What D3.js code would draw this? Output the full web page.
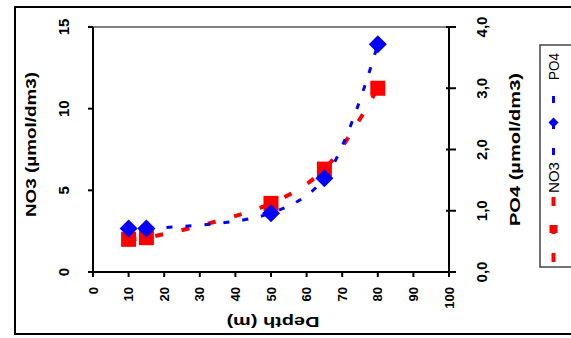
<!DOCTYPE html>
<html><head><meta charset="utf-8">
<script src="https://cdn.jsdelivr.net/npm/d3@7"></script>
<style>html,body{margin:0;padding:0;background:#fff;}svg{display:block;}</style>
</head><body>
<svg id="c" width="571" height="338"></svg>
<script>
const depth = [10, 15, 50, 65, 80];
const no3 = [2.0, 2.1, 4.2, 6.3, 11.25];
const po4 = [0.71, 0.71, 0.96, 1.53, 3.72];
const xTicks = [0,10,20,30,40,50,60,70,80,90,100];
const leftTicks = [0,5,10,15];
const rightTicks = [0,1,2,3,4];
const xTitle = "Depth (m)";
const leftTitle = "NO3 (µmol/dm3)";
const rightTitle = "PO4 (µmol/dm3)";
const seriesNames = ["NO3","PO4"];

const FONT = "'Liberation Sans', Arial, sans-serif";
const svg = d3.select("#c");
const L = 93, R = 449, T = 27, B = 272;
const x = d3.scaleLinear().domain([0,100]).range([L,R]);
const yL = d3.scaleLinear().domain([0,15]).range([B,T]);
const yR = d3.scaleLinear().domain([0,4]).range([B,T]);

// outer frame
svg.append("rect").attr("x",15).attr("y",7).attr("width",600).attr("height",327)
  .attr("fill","none").attr("stroke","#000").attr("stroke-width",2);

// plot top border
svg.append("line").attr("x1",L).attr("x2",R).attr("y1",T).attr("y2",T)
  .attr("stroke","#808080").attr("stroke-width",2);

// axes
const ax = svg.append("g").attr("stroke","#000").attr("stroke-width",2);
ax.append("line").attr("x1",L).attr("x2",L).attr("y1",T).attr("y2",B+1);
ax.append("line").attr("x1",R).attr("x2",R).attr("y1",T).attr("y2",B+1);
ax.append("line").attr("x1",L-4).attr("x2",R).attr("y1",B).attr("y2",B);
xTicks.forEach(t=>{ax.append("line").attr("x1",x(t)).attr("x2",x(t)).attr("y1",B).attr("y2",B+5);});
leftTicks.forEach(t=>{ax.append("line").attr("x1",L-5).attr("x2",L+ (t===0?4:0)).attr("y1",yL(t)).attr("y2",yL(t));});
rightTicks.forEach(t=>{ax.append("line").attr("x1",R-3).attr("x2",R+7).attr("y1",yR(t)).attr("y2",yR(t));});

// tick labels
const txt = svg.append("g").attr("font-family",FONT).attr("font-weight","bold").attr("fill","#000");
leftTicks.forEach(t=>{
  txt.append("text").attr("transform",`translate(63,${yL(t)}) rotate(-90)`)
    .attr("text-anchor","middle").attr("dominant-baseline","central").attr("font-size",15).text(t);
});
rightTicks.forEach(t=>{
  txt.append("text").attr("transform",`translate(481,${yR(t)}) rotate(-90)`)
    .attr("text-anchor","middle").attr("dominant-baseline","central").attr("font-size",15)
    .text(d3.format(".1f")(t).replace(".",","));
});
xTicks.forEach(t=>{
  txt.append("text").attr("transform",`translate(${x(t)},287) rotate(-90)`)
    .attr("text-anchor","end").attr("dominant-baseline","central").attr("font-size",13).text(t);
});
// titles
txt.append("text").attr("transform","translate(273,322) rotate(180)")
  .attr("text-anchor","middle").attr("dominant-baseline","central").attr("font-size",15)
  .attr("textLength",93).attr("lengthAdjust","spacingAndGlyphs").text(xTitle);
txt.append("text").attr("transform","translate(30,144.5) rotate(-90)")
  .attr("text-anchor","middle").attr("dominant-baseline","central").attr("font-size",15)
  .attr("textLength",145).attr("lengthAdjust","spacingAndGlyphs").text(leftTitle);
txt.append("text").attr("transform","translate(514,149.5) rotate(-90)")
  .attr("text-anchor","middle").attr("dominant-baseline","central").attr("font-size",15)
  .attr("textLength",153).attr("lengthAdjust","spacingAndGlyphs").text(rightTitle);

// series
const curve = d3.curveCatmullRom.alpha(0.5);
const lineN = d3.line().x((d,i)=>x(depth[i])).y(d=>yL(d)).curve(curve);
const lineP = d3.line().x((d,i)=>x(depth[i])).y(d=>yR(d)).curve(curve);
const diamond = (cx,cy,r)=>`M${cx},${cy-r}L${cx+r},${cy}L${cx},${cy+r}L${cx-r},${cy}Z`;

svg.append("path").attr("d",lineN(no3)).attr("fill","none").attr("stroke","#ff0000")
  .attr("stroke-width",4).attr("stroke-dasharray","8,19");
svg.append("g").selectAll("rect").data(no3).join("rect")
  .attr("x",(d,i)=>x(depth[i])-7.5).attr("y",d=>yL(d)-7.5).attr("width",15).attr("height",15).attr("fill","#ff0000");
svg.append("path").attr("d",lineP(po4)).attr("fill","none").attr("stroke","#0000ff")
  .attr("stroke-width",3).attr("stroke-dasharray","6,13");
svg.append("g").selectAll("path").data(po4).join("path")
  .attr("d",(d,i)=>diamond(x(depth[i]),yR(d),9)).attr("fill","#0000ff");

// legend
const lg = svg.append("g");
lg.append("rect").attr("x",540).attr("y",45).attr("width",60).attr("height",222)
  .attr("fill","#fff").attr("stroke","#444").attr("stroke-width",1.5);
lg.append("line").attr("x1",553.5).attr("x2",553.5).attr("y1",262).attr("y2",197)
  .attr("stroke","#ff0000").attr("stroke-width",4).attr("stroke-dasharray","9,19");
lg.append("rect").attr("x",549.5).attr("y",225).attr("width",8).attr("height",8).attr("fill","#ff0000");
lg.append("line").attr("x1",553.5).attr("x2",553.5).attr("y1",155).attr("y2",92)
  .attr("stroke","#0000ff").attr("stroke-width",3).attr("stroke-dasharray","7,19");
lg.append("path").attr("d",diamond(553.5,122.5,5)).attr("fill","#0000ff");
lg.append("text").attr("transform","translate(554,193) rotate(-90)")
  .attr("dominant-baseline","central").attr("font-family",FONT).attr("font-size",14)
  .attr("textLength",31).attr("lengthAdjust","spacingAndGlyphs").text(seriesNames[0]);
lg.append("text").attr("transform","translate(554,80) rotate(-90)")
  .attr("dominant-baseline","central").attr("font-family",FONT).attr("font-size",14)
  .attr("textLength",27).attr("lengthAdjust","spacingAndGlyphs").text(seriesNames[1]);
</script>
</body></html>
